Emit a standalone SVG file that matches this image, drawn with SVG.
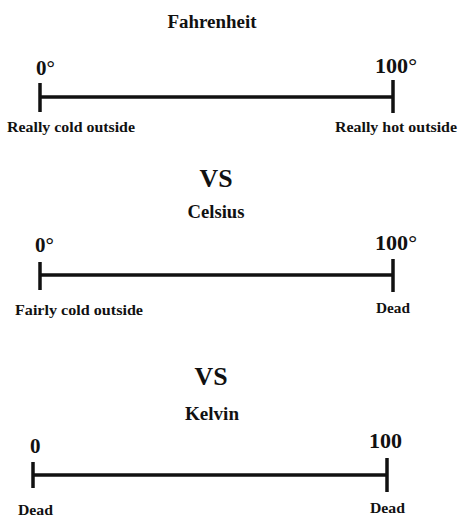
<svg xmlns="http://www.w3.org/2000/svg" width="471" height="527" viewBox="0 0 471 527">
<style>
text{font-family:"Liberation Serif","Times New Roman",serif;font-weight:bold;fill:#111}
.t{font-size:18px;text-anchor:middle}
.vs{font-size:26px;text-anchor:middle}
.n{font-size:21px}
.l{font-size:15px}
.r line{stroke:#111;stroke-width:3.5;stroke-linecap:butt}
</style>
<rect width="471" height="527" fill="#fff"/>
<g id="fahrenheit">
<text class="t" x="212" y="28" textLength="89" lengthAdjust="spacingAndGlyphs">Fahrenheit</text>
<text class="n" x="36" y="75">0°</text>
<text class="n" x="375" y="73" textLength="42" lengthAdjust="spacingAndGlyphs">100°</text>
<g class="r"><line x1="40" y1="97" x2="393" y2="97"/><line x1="40" y1="83" x2="40" y2="112"/><line x1="393" y1="80" x2="393" y2="113"/></g>
<text class="l" x="7" y="132" textLength="128" lengthAdjust="spacingAndGlyphs">Really cold outside</text>
<text class="l" x="335" y="132" textLength="122" lengthAdjust="spacingAndGlyphs">Really hot outside</text>
</g>
<g id="vs1"><text class="vs" x="216" y="187" textLength="33" lengthAdjust="spacingAndGlyphs">VS</text></g>
<g id="celsius">
<text class="t" x="216" y="218" textLength="57" lengthAdjust="spacingAndGlyphs">Celsius</text>
<text class="n" x="35" y="252">0°</text>
<text class="n" x="375" y="250" textLength="42" lengthAdjust="spacingAndGlyphs">100°</text>
<g class="r"><line x1="40" y1="275" x2="393" y2="275"/><line x1="40" y1="262" x2="40" y2="290"/><line x1="393" y1="259" x2="393" y2="292"/></g>
<text class="l" x="15" y="315" textLength="128" lengthAdjust="spacingAndGlyphs">Fairly cold outside</text>
<text class="l" x="376" y="313" textLength="34" lengthAdjust="spacingAndGlyphs">Dead</text>
</g>
<g id="vs2"><text class="vs" x="211" y="385" textLength="33" lengthAdjust="spacingAndGlyphs">VS</text></g>
<g id="kelvin">
<text class="t" x="212" y="420" textLength="54" lengthAdjust="spacingAndGlyphs">Kelvin</text>
<text class="n" x="30" y="453">0</text>
<text class="n" x="369" y="448" textLength="33" lengthAdjust="spacingAndGlyphs">100</text>
<g class="r"><line x1="33" y1="475" x2="387" y2="475"/><line x1="33" y1="462" x2="33" y2="488"/><line x1="387" y1="458" x2="387" y2="492"/></g>
<text class="l" x="18" y="515" textLength="35" lengthAdjust="spacingAndGlyphs">Dead</text>
<text class="l" x="370" y="513" textLength="35" lengthAdjust="spacingAndGlyphs">Dead</text>
</g>
</svg>
